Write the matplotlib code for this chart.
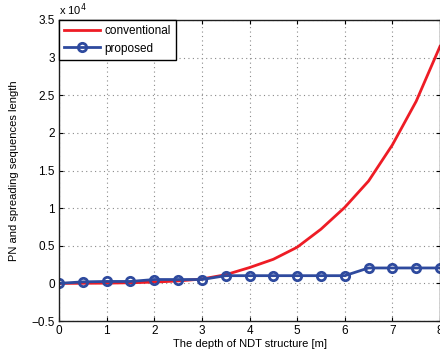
import matplotlib
matplotlib.use("Agg")
import matplotlib.pyplot as plt

# depth of NDT structure [m]
depth = [0, 0.5, 1, 1.5, 2, 2.5, 3, 3.5, 4, 4.5, 5, 5.5, 6, 6.5, 7, 7.5, 8]
conventional = [0, 10, 30, 80, 170, 320, 580, 1150, 2100, 3200, 4800,
                7200, 10100, 13600, 18400, 24200, 31500]
proposed = [0, 200, 256, 256, 512, 512, 512, 1024, 1024, 1024, 1024,
            1024, 1024, 2048, 2048, 2048, 2048]
scale = 1e4

plt.rcParams['font.family'] = ['Liberation Sans', 'DejaVu Sans']
plt.rcParams['font.size'] = 8

fig = plt.figure(figsize=(4.4, 3.57), dpi=100)
ax = fig.add_axes([59 / 440, 36 / 357, 381 / 440, 301 / 357])

ax.plot(depth, [v / scale for v in conventional], color='#ee1c25', lw=2,
        label='conventional')
ax.plot(depth, [v / scale for v in proposed], color='#2e4a9e', lw=2,
        marker='o', ms=6, mfc='none', mew=2, label='proposed')

ax.set_xlim(0, 8)
ax.set_ylim(-0.5, 3.5)
ax.set_xticks(range(0, 9))
ax.set_yticks([-0.5, 0, 0.5, 1, 1.5, 2, 2.5, 3, 3.5])
ax.set_yticklabels(['\u22120.5', '0', '0.5', '1', '1.5', '2', '2.5', '3', '3.5'])
ax.grid(True, linestyle=(0, (1, 3)), color='#8a8a8a', lw=0.8)
ax.tick_params(direction='in', top=True, right=True, length=3, pad=3,
               labelsize=8.5)
for s in ax.spines.values():
    s.set_linewidth(1.0)
    s.set_color('#202020')

ax.set_xlabel('The depth of NDT structure [m]', fontsize=8, labelpad=1)
ax.set_ylabel('PN and spreading sequences length', fontsize=8, labelpad=9)
ax.text(0.0, 1.005, 'x 10$^4$', transform=ax.transAxes, fontsize=8,
        ha='left', va='bottom')

leg = ax.legend(loc='upper left', fontsize=8.5, fancybox=False, framealpha=1,
                edgecolor='black', borderaxespad=0, handlelength=3.0,
                handletextpad=0.4, borderpad=0.45, labelspacing=0.45)
leg.get_frame().set_linewidth(1.0)

fig.savefig('out.png', dpi=100)
